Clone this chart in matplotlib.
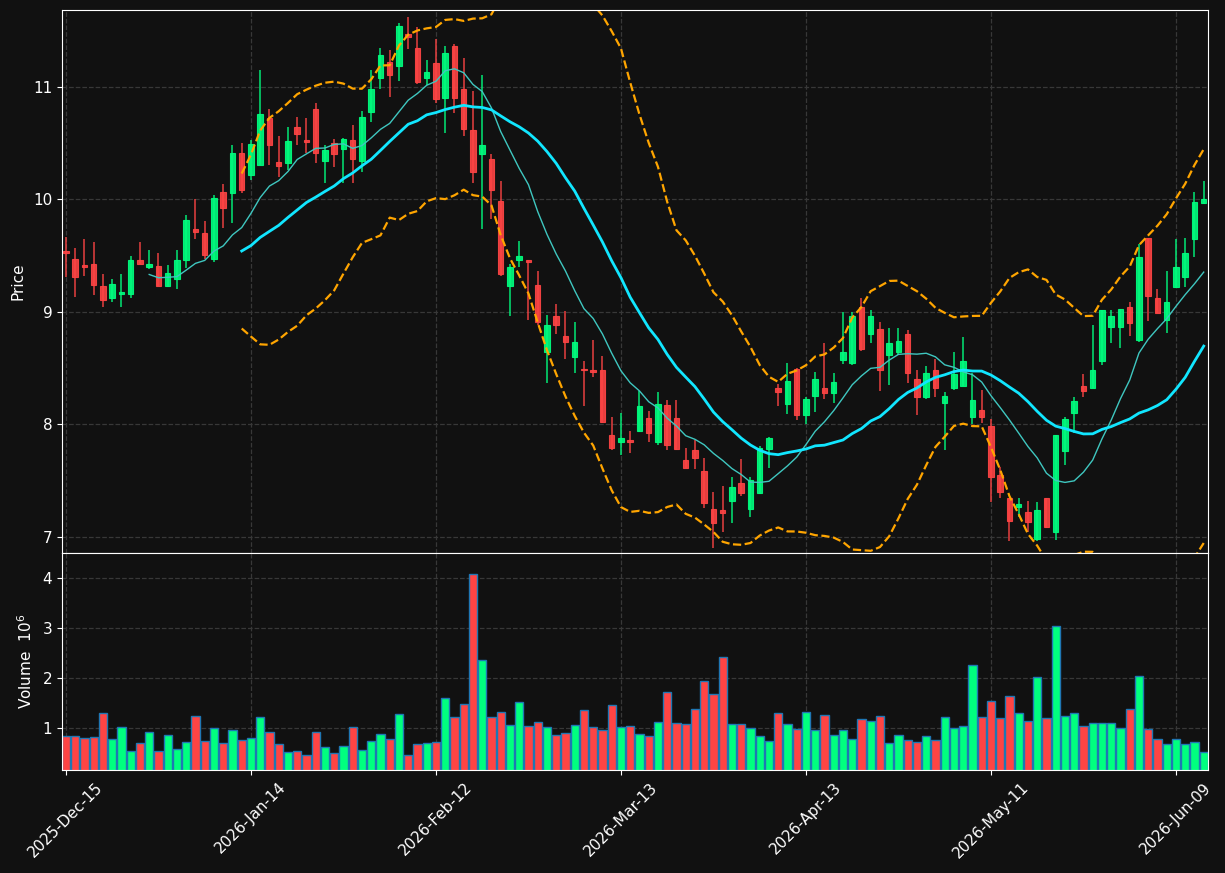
import numpy as np
import pandas as pd
import matplotlib
matplotlib.use("Agg")
import matplotlib.pyplot as plt

# trading days (NYSE calendar)
holidays = ["2025-12-25", "2026-01-01", "2026-01-19", "2026-02-16", "2026-04-03", "2026-05-25"]
dates = pd.bdate_range("2025-12-15", "2026-06-12", freq="C", holidays=holidays)

opens = [9.54, 9.47, 9.42, 9.43, 9.23, 9.12, 9.16, 9.16, 9.46, 9.40,
         9.41, 9.23, 9.29, 9.46, 9.74, 9.70, 9.47, 10.07, 10.06, 10.41,
         10.22, 10.31, 10.72, 10.33, 10.32, 10.64, 10.53, 10.80, 10.34, 10.50,
         10.45, 10.53, 10.34, 10.78, 11.08, 11.22, 11.19, 11.47, 11.35, 11.08,
         11.21, 10.90, 11.36, 10.98, 10.62, 10.40, 10.36, 9.99, 9.23, 9.46,
         9.46, 9.24, 8.64, 8.96, 8.79, 8.60, 8.49, 8.48, 8.48, 7.91,
         7.84, 7.86, 7.94, 8.06, 7.84, 8.17, 8.06, 7.68, 7.77, 7.59,
         7.25, 7.24, 7.32, 7.48, 7.25, 7.39, 7.78, 8.32, 8.18, 8.49,
         8.08, 8.25, 8.32, 8.28, 8.57, 8.55, 9.04, 8.80, 8.85, 8.62,
         8.64, 8.80, 8.40, 8.24, 8.48, 8.19, 8.32, 8.34, 8.07, 8.13,
         7.99, 7.55, 7.35, 7.27, 7.22, 6.98, 7.35, 7.04, 7.76, 8.10,
         8.34, 8.32, 8.56, 8.87, 8.87, 9.04, 8.75, 9.66, 9.12, 8.93,
         9.22, 9.31, 9.65, 9.97]
highs = [9.67, 9.57, 9.65, 9.62, 9.34, 9.29, 9.34, 9.50, 9.62, 9.55,
         9.52, 9.42, 9.55, 9.86, 10.00, 9.81, 10.04, 10.14, 10.48, 10.50,
         10.53, 11.15, 10.80, 10.56, 10.64, 10.73, 10.72, 10.86, 10.48, 10.54,
         10.55, 10.66, 10.79, 11.15, 11.35, 11.33, 11.57, 11.62, 11.53, 11.24,
         11.43, 11.36, 11.38, 11.26, 10.96, 11.11, 10.40, 10.16, 9.43, 9.63,
         9.46, 9.36, 8.97, 9.07, 9.01, 8.91, 8.56, 8.75, 8.61, 8.07,
         8.10, 7.94, 8.30, 8.12, 8.29, 8.22, 8.22, 7.79, 7.86, 7.70,
         7.40, 7.45, 7.53, 7.69, 7.53, 7.81, 7.89, 8.36, 8.55, 8.50,
         8.24, 8.47, 8.72, 8.46, 9.00, 9.00, 9.12, 9.02, 8.91, 8.86,
         8.86, 8.84, 8.48, 8.52, 8.58, 8.29, 8.64, 8.78, 8.46, 8.31,
         8.05, 7.62, 7.35, 7.35, 7.32, 7.31, 7.35, 7.91, 8.07, 8.24,
         8.45, 8.88, 9.02, 9.02, 9.03, 9.09, 9.60, 9.66, 9.20, 9.36,
         9.65, 9.66, 10.07, 10.16]
lows = [9.31, 9.13, 9.32, 9.15, 9.04, 9.09, 9.04, 9.12, 9.43, 9.38,
        9.23, 9.22, 9.20, 9.39, 9.65, 9.47, 9.44, 9.75, 9.79, 10.06,
        10.17, 10.31, 10.31, 10.20, 10.26, 10.48, 10.41, 10.32, 10.15, 10.29,
        10.15, 10.15, 10.24, 10.69, 10.98, 10.91, 11.05, 11.34, 11.03, 11.02,
        10.86, 10.59, 10.77, 10.56, 10.15, 9.74, 9.83, 9.32, 8.96, 9.40,
        8.93, 8.88, 8.37, 8.80, 8.58, 8.46, 8.16, 8.42, 8.01, 7.77,
        7.73, 7.75, 7.93, 7.84, 7.82, 7.77, 7.77, 7.61, 7.60, 7.26,
        6.90, 7.04, 7.12, 7.36, 7.18, 7.38, 7.61, 8.16, 8.09, 8.04,
        8.00, 8.11, 8.23, 8.19, 8.54, 8.53, 8.65, 8.72, 8.30, 8.35,
        8.62, 8.37, 8.08, 8.23, 8.24, 7.77, 8.31, 8.34, 8.00, 8.01,
        7.31, 7.35, 6.96, 7.18, 7.04, 6.96, 7.08, 6.97, 7.64, 7.92,
        8.24, 8.32, 8.53, 8.72, 8.68, 8.79, 8.73, 8.92, 8.99, 8.81,
        9.21, 9.22, 9.49, 9.96]
closes = [9.52, 9.31, 9.40, 9.24, 9.11, 9.25, 9.18, 9.46, 9.43, 9.43,
          9.23, 9.35, 9.46, 9.82, 9.71, 9.51, 10.01, 9.92, 10.41, 10.08,
          10.49, 10.76, 10.48, 10.30, 10.52, 10.58, 10.51, 10.41, 10.44, 10.40,
          10.54, 10.36, 10.73, 10.98, 11.28, 11.11, 11.54, 11.44, 11.04, 11.13,
          10.89, 11.30, 10.90, 10.63, 10.24, 10.48, 10.08, 9.34, 9.40, 9.50,
          9.44, 8.91, 8.88, 8.88, 8.73, 8.73, 8.48, 8.47, 8.02, 7.79,
          7.88, 7.84, 8.16, 7.92, 8.18, 7.82, 7.78, 7.61, 7.70, 7.30,
          7.12, 7.21, 7.44, 7.39, 7.51, 7.79, 7.88, 8.29, 8.39, 8.08,
          8.23, 8.40, 8.28, 8.38, 8.64, 8.96, 8.67, 8.96, 8.48, 8.72,
          8.74, 8.46, 8.24, 8.46, 8.32, 8.25, 8.45, 8.56, 8.22, 8.07,
          7.53, 7.40, 7.14, 7.29, 7.13, 7.24, 7.09, 7.91, 8.05, 8.21,
          8.30, 8.48, 9.02, 8.96, 9.03, 8.90, 9.49, 9.14, 8.99, 9.09,
          9.40, 9.52, 9.98, 10.00]
# volume in millions
volumes = [0.84, 0.84, 0.80, 0.82, 1.30, 0.78, 1.02, 0.54, 0.70, 0.92,
           0.54, 0.86, 0.58, 0.72, 1.24, 0.74, 1.00, 0.70, 0.96, 0.76,
           0.80, 1.22, 0.92, 0.68, 0.52, 0.54, 0.46, 0.92, 0.62, 0.50,
           0.64, 1.02, 0.56, 0.74, 0.88, 0.78, 1.28, 0.46, 0.68, 0.70,
           0.72, 1.60, 1.22, 1.47, 4.07, 2.35, 1.22, 1.32, 1.06, 1.52,
           1.04, 1.12, 1.02, 0.86, 0.90, 1.06, 1.36, 1.02, 0.96, 1.46,
           1.02, 1.04, 0.88, 0.84, 1.12, 1.72, 1.10, 1.08, 1.38, 1.94,
           1.68, 2.42, 1.08, 1.08, 1.00, 0.84, 0.74, 1.30, 1.08, 0.98,
           1.32, 0.96, 1.26, 0.86, 0.96, 0.78, 1.18, 1.14, 1.24, 0.70,
           0.86, 0.76, 0.72, 0.84, 0.76, 1.22, 1.00, 1.04, 2.26, 1.22,
           1.54, 1.20, 1.64, 1.30, 1.14, 2.02, 1.20, 3.04, 1.24, 1.30,
           1.04, 1.10, 1.10, 1.10, 1.00, 1.38, 2.04, 0.98, 0.78, 0.68,
           0.78, 0.68, 0.72, 0.52]

df = pd.DataFrame({"Open": opens, "High": highs, "Low": lows,
                   "Close": closes, "Volume": volumes}, index=dates)

bg = "#111111"
up_col = "#00ff7f"
down_col = "#ff4444"
grid_kw = dict(color="#383838", linestyle="--", linewidth=0.9)

x = np.arange(len(df))
is_up = df["Close"] >= df["Open"]
colors = np.where(is_up, up_col, down_col)

mav10 = df["Close"].rolling(10).mean()
mav20 = df["Close"].rolling(20).mean()
std20 = df["Close"].rolling(20).std()
upper = mav20 + 2 * std20
lower = mav20 - 2 * std20

fig = plt.figure(figsize=(12.25, 8.73), dpi=100, facecolor=bg)
ax = fig.add_axes([0.0506, 0.3666, 0.9355, 0.622])
axv = fig.add_axes([0.0506, 0.118, 0.9355, 0.2486], sharex=ax)

for a in (ax, axv):
    a.set_facecolor(bg)
    for s in a.spines.values():
        s.set_color("white")
    a.tick_params(colors="white", labelsize=11)
    a.grid(True, **grid_kw)
    a.set_axisbelow(True)

# candles
body_lo = np.minimum(df["Open"], df["Close"])
body_h = np.abs(df["Close"] - df["Open"])
ax.vlines(x, df["Low"], df["High"], colors=colors, linewidth=1.1, alpha=0.9)
ax.bar(x, body_h, bottom=body_lo, width=0.6, color=colors, edgecolor=colors,
       linewidth=0.8, alpha=0.9)

ax.plot(x, mav10, color="#3fc7c0", linewidth=1.0)
ax.plot(x, mav20, color="#11e6ff", linewidth=2.0)
ax.plot(x, upper, color="#ffa500", linestyle="--", linewidth=1.6)
ax.plot(x, lower, color="#ffa500", linestyle="--", linewidth=1.6)

ax.set_ylim(6.858, 11.684)
ax.set_xlim(-0.43, len(df) - 0.54)
ax.set_yticks([7, 8, 9, 10, 11])
ax.set_ylabel("Price", color="white", fontsize=11)
plt.setp(ax.get_xticklabels(), visible=False)
ax.tick_params(axis="x", length=0)

# volume
axv.bar(x, df["Volume"], width=0.9, color=colors, edgecolor="#1f77b4", linewidth=1.0)
axv.set_ylim(0.16, 4.5)
axv.set_yticks([1, 2, 3, 4])
axv.set_ylabel("Volume  $10^{6}$", color="white", fontsize=11)

ticks = x[::20]
axv.set_xticks(ticks)
axv.set_xticklabels([dates[i].strftime("%Y-%b-%d") for i in ticks],
                    rotation=45, ha="center")
ax.yaxis.set_label_coords(-0.032, 0.5)
axv.yaxis.set_label_coords(-0.0235, 0.5)

fig.savefig("out.png", facecolor=bg)
